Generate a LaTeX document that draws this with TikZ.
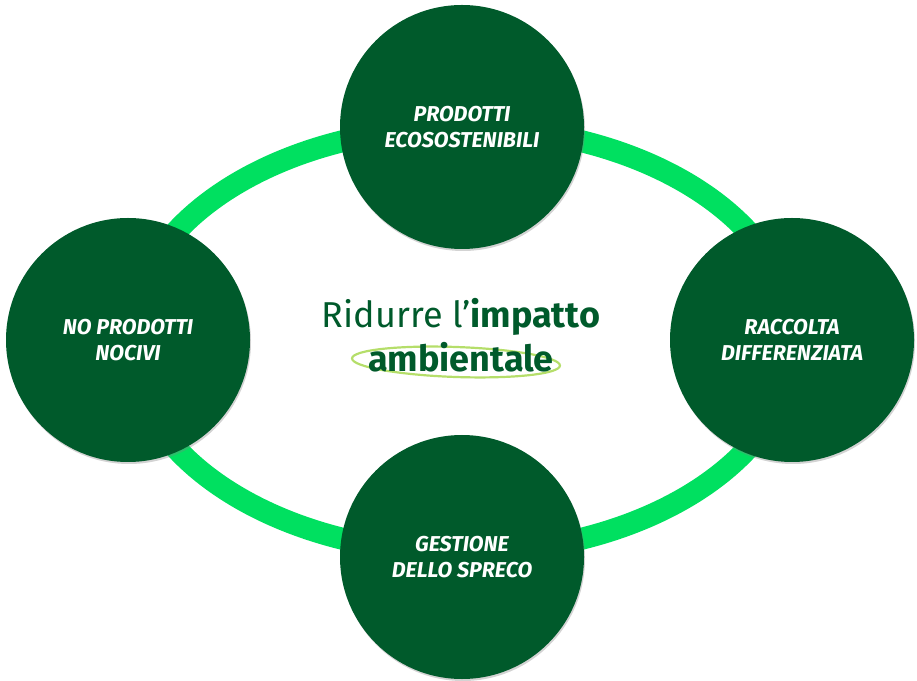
\documentclass[tikz,border=0pt]{standalone}
\usepackage{fontspec}
\setmainfont{Fira Sans}
\usetikzlibrary{positioning,shadows}
\definecolor{darkgreen}{HTML}{005A2B}
\definecolor{ringgreen}{HTML}{00E060}
\definecolor{swoosh}{HTML}{B5DE6A}
\tikzset{
  topic/.style={circle, fill=darkgreen, minimum size=244pt, inner sep=0pt,
    text=white, align=center, font=\fontsize{21.5}{26}\selectfont\bfseries\itshape,
    drop shadow={shadow xshift=1pt, shadow yshift=-2pt, opacity=0.35}},
  ring/.style={draw=ringgreen, line width=22pt}
}
\begin{document}
\begin{tikzpicture}[x=1pt,y=1pt]
  \useasboundingbox (0,0) rectangle (917,680);
  \coordinate (centre) at (462,340);
  \draw[ring] (centre) ellipse [x radius=332, y radius=213];
  \node[topic] (prodotti) at (462,553) {PRODOTTI\\ECOSOSTENIBILI};
  \node[topic] (nocivi) at (128,340) {NO PRODOTTI\\NOCIVI};
  \node[topic] (raccolta) at (792,340) {RACCOLTA\\DIFFERENZIATA};
  \node[topic] (spreco) at (462,123) {GESTIONE\\DELLO SPRECO};
  % testo centrale
  \node[text=darkgreen, font=\fontsize{36}{40}\selectfont] (titolo) at (461,363)
    {Ridurre l’\textbf{impatto}};
  \draw[swoosh, line width=2.2pt, rotate around={-2:(456,318)}] (456,318) ellipse [x radius=104, y radius=15];
  \node[text=darkgreen, font=\fontsize{36}{40}\selectfont\bfseries, below=0pt of titolo] (ambiente)
    {ambientale};
\end{tikzpicture}
\end{document}
